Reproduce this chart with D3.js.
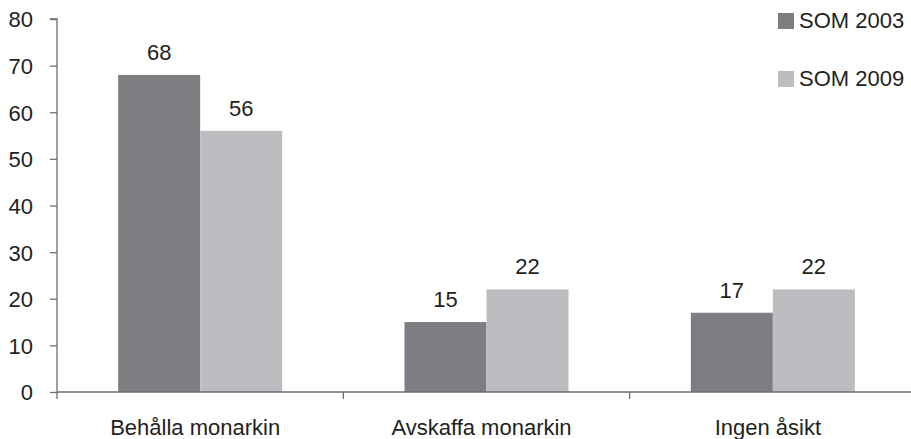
<!DOCTYPE html>
<html>
<head>
<meta charset="utf-8">
<script src="https://cdn.jsdelivr.net/npm/d3@7"></script>
<style>
  body { margin: 0; background: #fff; }
  text { font-family: "Liberation Sans", Arial, sans-serif; fill: #231f20; }
</style>
</head>
<body>
<svg id="chart" width="911" height="439"></svg>
<script>
// chart data
var categories = ["Behålla monarkin", "Avskaffa monarkin", "Ingen åsikt"];
var series = ["SOM 2003", "SOM 2009"];
var som2003 = [68, 15, 17];
var som2009 = [56, 22, 22];
var yTicks = [0, 10, 20, 30, 40, 50, 60, 70, 80];
var colors = ["#7d7e82", "#bcbdc1"];

var svg = d3.select("#chart");
var axisColor = "#6d6e71";
var fontSize = 22;

// scales
var xScale = d3.scaleBand().domain(categories).range([57, 916]);
var barW = 82;
var xInner = d3.scaleBand().domain(series).range([0, barW * 2]);
var yScale = d3.scaleLinear().domain([0, 80]).range([392, 19]);

var rows = categories.map(function(c, i) {
  return { cat: c, values: [som2003[i], som2009[i]] };
});

// bars
var groups = svg.selectAll("g.cat")
    .data(rows)
  .enter().append("g")
    .attr("class", "cat")
    .attr("transform", function(d) {
      return "translate(" + (xScale(d.cat) + (xScale.bandwidth() - barW * 2) / 2) + ",0)";
    });

groups.selectAll("rect")
    .data(function(d) { return d.values.map(function(v, j) { return { s: series[j], v: v, j: j }; }); })
  .enter().append("rect")
    .attr("x", function(d) { return xInner(d.s); })
    .attr("width", xInner.bandwidth())
    .attr("y", function(d) { return yScale(d.v); })
    .attr("height", function(d) { return yScale(0) - yScale(d.v); })
    .style("fill", function(d) { return colors[d.j]; });

// value labels
groups.selectAll("text.val")
    .data(function(d) { return d.values.map(function(v, j) { return { s: series[j], v: v }; }); })
  .enter().append("text")
    .attr("class", "val")
    .attr("x", function(d) { return xInner(d.s) + xInner.bandwidth() / 2; })
    .attr("y", function(d) { return yScale(d.v) - 15; })
    .attr("text-anchor", "middle")
    .style("font-size", fontSize + "px")
    .text(function(d) { return d.v; });

// y axis
var yAxis = svg.append("g")
    .attr("transform", "translate(57,0)")
    .call(d3.axisLeft(yScale).tickValues(yTicks).tickSize(7).tickPadding(17));
yAxis.selectAll("line, path").style("stroke", axisColor).style("stroke-width", 1.3);
yAxis.select("path").attr("d", "M-7," + yScale(80) + "H0V" + (yScale(0) + 7));
yAxis.selectAll("text")
    .style("font-size", fontSize + "px")
    .style("font-family", "Liberation Sans, Arial, sans-serif")
    .style("fill", "#231f20")
    .attr("dy", "0.36em");

// x axis
var xAxis = svg.append("g")
    .attr("transform", "translate(0," + yScale(0) + ")")
    .call(d3.axisBottom(xScale).tickSize(0).tickPadding(27.5));
xAxis.select("path").attr("d", "M57,0H911").style("stroke", axisColor).style("stroke-width", 1.3);
xAxis.selectAll("text")
    .attr("dx", -5)
    .style("font-size", fontSize + "px")
    .style("font-family", "Liberation Sans, Arial, sans-serif")
    .style("fill", "#231f20");

// category boundary ticks
svg.append("g").selectAll("line")
    .data(categories.slice(1))
  .enter().append("line")
    .attr("x1", function(d) { return xScale(d); })
    .attr("x2", function(d) { return xScale(d); })
    .attr("y1", yScale(0))
    .attr("y2", yScale(0) + 7)
    .style("stroke", axisColor)
    .style("stroke-width", 1.3);

// legend
var legend = svg.selectAll("g.legend")
    .data(series)
  .enter().append("g")
    .attr("class", "legend")
    .attr("transform", function(d, i) { return "translate(778," + (13 + i * 58) + ")"; });
legend.append("rect")
    .attr("width", 16)
    .attr("height", 16)
    .style("fill", function(d, i) { return colors[i]; });
legend.append("text")
    .attr("x", 21)
    .attr("y", 15)
    .style("font-size", fontSize + "px")
    .text(function(d) { return d; });
</script>
</body>
</html>
